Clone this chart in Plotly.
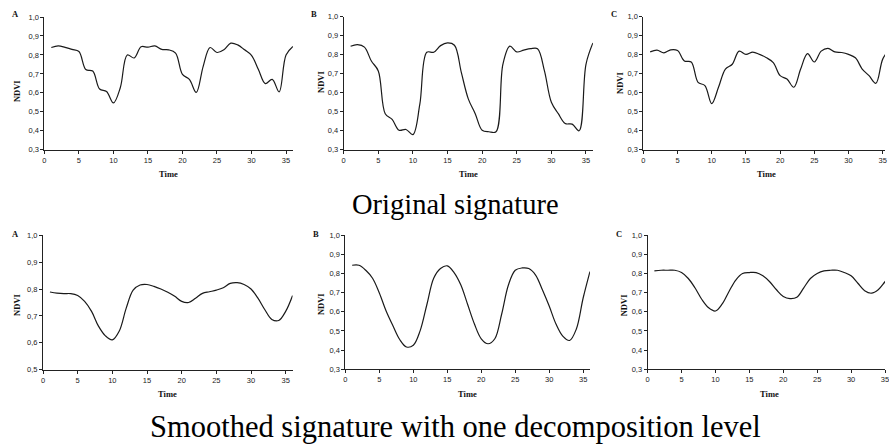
import plotly.graph_objects as go

W, H = 889, 446

time = list(range(1, 37))

orig_a = [0.839, 0.848, 0.840, 0.829, 0.818, 0.723, 0.715, 0.620, 0.607, 0.547,
          0.628, 0.800, 0.784, 0.843, 0.841, 0.848, 0.829, 0.827, 0.810, 0.697,
          0.671, 0.602, 0.740, 0.839, 0.813, 0.827, 0.862, 0.853, 0.827, 0.798,
          0.723, 0.649, 0.671, 0.605, 0.800, 0.845]
orig_b = [0.845, 0.853, 0.840, 0.767, 0.715, 0.490, 0.460, 0.403, 0.407, 0.380,
          0.540, 0.813, 0.813, 0.848, 0.862, 0.850, 0.706, 0.568, 0.490, 0.403,
          0.395, 0.395, 0.750, 0.845, 0.815, 0.824, 0.832, 0.832, 0.715, 0.550,
          0.490, 0.438, 0.435, 0.400, 0.750, 0.862]
orig_c = [0.815, 0.824, 0.810, 0.826, 0.822, 0.767, 0.762, 0.655, 0.638, 0.543,
          0.630, 0.725, 0.750, 0.819, 0.802, 0.814, 0.802, 0.784, 0.759, 0.690,
          0.672, 0.629, 0.725, 0.806, 0.762, 0.819, 0.834, 0.815, 0.812, 0.802,
          0.784, 0.725, 0.690, 0.650, 0.777, 0.830]

smooth_a = [0.789, 0.785, 0.783, 0.783, 0.776, 0.754, 0.717, 0.662, 0.626, 0.611,
            0.644, 0.729, 0.796, 0.815, 0.817, 0.810, 0.800, 0.788, 0.773, 0.754,
            0.750, 0.766, 0.784, 0.790, 0.796, 0.805, 0.821, 0.824, 0.817, 0.800,
            0.766, 0.723, 0.687, 0.683, 0.717, 0.776]
smooth_b = [0.843, 0.843, 0.817, 0.775, 0.698, 0.604, 0.527, 0.455, 0.416, 0.425,
            0.500, 0.638, 0.775, 0.826, 0.840, 0.805, 0.740, 0.638, 0.536, 0.459,
            0.433, 0.459, 0.587, 0.740, 0.817, 0.829, 0.826, 0.792, 0.715, 0.630,
            0.536, 0.473, 0.450, 0.510, 0.672, 0.810]
smooth_c = [0.814, 0.817, 0.817, 0.817, 0.805, 0.774, 0.724, 0.664, 0.621, 0.604,
            0.641, 0.706, 0.766, 0.800, 0.805, 0.805, 0.788, 0.757, 0.715, 0.680,
            0.669, 0.676, 0.724, 0.774, 0.800, 0.814, 0.817, 0.817, 0.805, 0.788,
            0.749, 0.710, 0.697, 0.715, 0.757, 0.800]

x_ticks = [0, 5, 10, 15, 20, 25, 30, 35]
panel_labels = ["A", "B", "C"]
row_titles = ["Original signature", "Smoothed signature with one decomposition level"]

# panel geometry in pixels: (x0, unit px, y_top, y_bottom, ymin, xmax visible)
panels = [
    (orig_a,   42.7, 6.95, 13.3, 148.7, 0.3, 36.0),
    (orig_b,   344.0, 6.97, 13.0, 148.8, 0.3, 36.0),
    (orig_c,   645.7, 6.886, 13.0, 148.8, 0.3, 35.33),
    (smooth_a, 41.3, 6.98, 236.0, 373.3, 0.5, 36.0),
    (smooth_b, 345.7, 6.84, 236.0, 372.7, 0.3, 36.0),
    (smooth_c, 650.0, 6.83, 236.0, 372.7, 0.3, 35.0),
]
label_pos = [(13.3, 10), (314, 10), (615.7, 10), (14, 235), (316, 235), (621, 235)]
ndvi_pos = [(15, 89), (321.7, 80), (622.3, 80.5), (15.7, 307.5), (320.7, 306.7), (625.7, 307)]

fig = go.Figure()
annotations = []
ink = "#1a1a1a"

for i, (vals, x0, unit, yt, yb, ymin, xmax) in enumerate(panels):
    n = i + 1
    xa = "x" if n == 1 else f"x{n}"
    ya = "y" if n == 1 else f"y{n}"
    xr = x0 + unit * xmax
    fig.add_trace(go.Scatter(
        x=time, y=vals, mode="lines", xaxis=xa, yaxis=ya,
        line=dict(color=ink, width=1.2, shape="spline", smoothing=1.0),
        showlegend=False, hoverinfo="skip"))
    axis_common = dict(showgrid=False, zeroline=False, showline=True,
                       linecolor="#222", linewidth=1, ticks="outside",
                       ticklen=3, tickwidth=1, tickcolor="#222",
                       tickfont=dict(family="Liberation Sans", size=7.5, color="#222"))
    fig.update_layout(**{
        ("xaxis" if n == 1 else f"xaxis{n}"): dict(
            domain=[x0 / W, min(xr / W, 1.0)], range=[0, xmax],
            tickvals=x_ticks, anchor=ya, ticklabeloverflow="allow", **axis_common),
        ("yaxis" if n == 1 else f"yaxis{n}"): dict(
            domain=[1 - yb / H, 1 - yt / H], range=[ymin, 1.0], dtick=0.1,
            tick0=0, tickformat=".1f", anchor=xa, **axis_common),
    })
    lx, ly = label_pos[i]
    annotations.append(dict(text="<b>%s</b>" % panel_labels[i % 3], x=lx / W, y=1 - ly / H,
                            xref="paper", yref="paper", showarrow=False,
                            font=dict(family="Liberation Serif", size=8.5, color="#111"),
                            xanchor="center", yanchor="middle"))
    nx, ny = ndvi_pos[i]
    annotations.append(dict(text="<b>NDVI</b>", x=nx / W, y=1 - ny / H,
                            xref="paper", yref="paper", showarrow=False, textangle=-90,
                            font=dict(family="Liberation Serif", size=8.5, color="#111"),
                            xanchor="center", yanchor="middle"))
    full_r = x0 + unit * 36
    annotations.append(dict(text="<b>Time</b>", x=(x0 + full_r) / 2 / W,
                            y=1 - (yb + 25) / H,
                            xref="paper", yref="paper", showarrow=False,
                            font=dict(family="Liberation Serif", size=8.5, color="#111"),
                            xanchor="center", yanchor="middle"))

annotations.append(dict(text=row_titles[0], x=457 / W, y=1 - 205 / H, xref="paper", yref="paper",
                        showarrow=False, xanchor="center", yanchor="middle",
                        font=dict(family="Liberation Serif", size=28.5, color="#000")))
annotations.append(dict(text=row_titles[1], x=457 / W, y=1 - 432 / H, xref="paper", yref="paper",
                        showarrow=False, xanchor="center", yanchor="middle",
                        font=dict(family="Liberation Serif", size=30.5, color="#000")))

fig.update_layout(width=W, height=H, autosize=False,
                  margin=dict(l=0, r=0, t=0, b=0, pad=0),
                  paper_bgcolor="white", plot_bgcolor="white",
                  separators=",.", annotations=annotations)

fig.write_html("out.html", config={"displayModeBar": False},
               post_script="document.body.style.margin='0';"
                           "document.body.style.overflow='hidden';"
                           "document.documentElement.style.overflow='hidden';")
